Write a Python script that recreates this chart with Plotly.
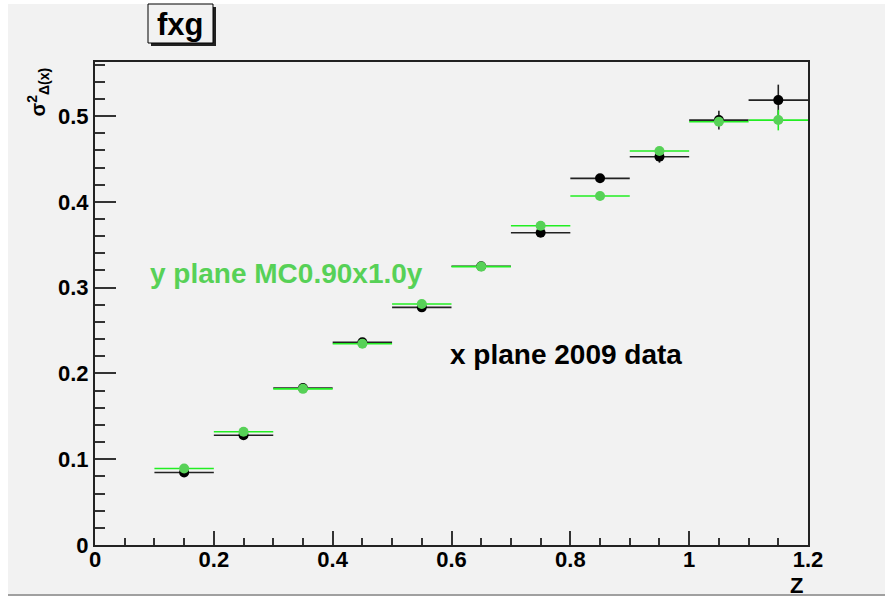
import plotly.graph_objects as go

# ---- data ----
z_centers = [0.15, 0.25, 0.35, 0.45, 0.55, 0.65, 0.75, 0.85, 0.95, 1.05, 1.15]
z_halfwidth = [0.05] * 11
data_vals = [0.0845, 0.128, 0.183, 0.2362, 0.277, 0.325, 0.364, 0.4274, 0.4526, 0.4953, 0.5186]
data_err = [0.002, 0.002, 0.002, 0.002, 0.003, 0.003, 0.003, 0.004, 0.007, 0.011, 0.018]
mc_vals = [0.0892, 0.132, 0.182, 0.2345, 0.281, 0.3245, 0.3722, 0.4068, 0.4592, 0.4934, 0.4953]
mc_err = [0.002, 0.002, 0.002, 0.002, 0.002, 0.002, 0.002, 0.003, 0.004, 0.005, 0.012]

x_ticks = [0, 0.2, 0.4, 0.6, 0.8, 1, 1.2]
x_ticklabels = ["0", "0.2", "0.4", "0.6", "0.8", "1", "1.2"]
y_ticks = [0, 0.1, 0.2, 0.3, 0.4, 0.5]
y_ticklabels = ["0", "0.1", "0.2", "0.3", "0.4", "0.5"]

W, H = 885, 605
L, R, T, B = 95, 77, 62, 60
PW, PH = W - L - R, H - T - B


def px(x):
    return (x - L) / PW


def py(y):
    return (H - B - y) / PH


FONT = "Liberation Sans, Arial, sans-serif"
BG = "#f2f2f2"
GREEN_M = "#57d157"
GREEN_L = "#22ee22"

fig = go.Figure()
fig.add_trace(go.Scatter(
    x=z_centers, y=data_vals, mode="markers", name="x plane 2009 data",
    marker=dict(color="black", size=10),
    error_x=dict(type="data", array=z_halfwidth, width=0, color="#222222", thickness=1.6),
    error_y=dict(type="data", array=data_err, width=0, color="#222222", thickness=1.6),
))
fig.add_trace(go.Scatter(
    x=z_centers, y=mc_vals, mode="markers", name="y plane MC0.90x1.0y",
    marker=dict(color=GREEN_M, size=10),
    error_x=dict(type="data", array=z_halfwidth, width=0, color=GREEN_L, thickness=1.6),
    error_y=dict(type="data", array=mc_err, width=0, color=GREEN_L, thickness=1.6),
))

shapes = [
    dict(type="rect", xref="paper", yref="paper", x0=px(8), x1=px(890), y0=py(595), y1=py(4),
         fillcolor=BG, line=dict(width=0), layer="below"),
    dict(type="line", xref="paper", yref="paper", x0=px(8), x1=px(890), y0=py(595), y1=py(595),
         line=dict(color="#a0a0a0", width=2), layer="below"),
    dict(type="rect", xref="paper", yref="paper", x0=px(151), x1=px(216), y0=py(46), y1=py(7),
         fillcolor="#222222", line=dict(width=0)),
    dict(type="rect", xref="paper", yref="paper", x0=px(148), x1=px(213), y0=py(43), y1=py(4),
         fillcolor=BG, line=dict(color="black", width=1)),
]

annotations = [
    dict(text="<b>fxg</b>", xref="paper", yref="paper", x=px(180.5), y=py(24),
         xanchor="center", yanchor="middle", showarrow=False,
         font=dict(family=FONT, size=31, color="black")),
    dict(text="<b>y plane MC0.90x1.0y</b>", xref="paper", yref="paper", x=px(148), y=py(273),
         xanchor="left", yanchor="middle", showarrow=False,
         font=dict(family=FONT, size=28, color=GREEN_M)),
    dict(text="<b>x plane 2009 data</b>", xref="paper", yref="paper", x=px(448), y=py(354),
         xanchor="left", yanchor="middle", showarrow=False,
         font=dict(family=FONT, size=28, color="black")),
    dict(text="<b>Z</b>", xref="paper", yref="paper", x=px(796), y=py(585),
         xanchor="center", yanchor="middle", showarrow=False,
         font=dict(family=FONT, size=22, color="black")),
    dict(text="<b>σ<sup>2</sup><sub>Δ(x)</sub></b>", xref="paper", yref="paper", x=px(38), y=py(66),
         xanchor="center", yanchor="top", showarrow=False, textangle=-90,
         font=dict(family=FONT, size=20, color="black")),
]

fig.update_layout(
    width=W, height=H,
    margin=dict(l=L, r=R, t=T, b=B, pad=0),
    paper_bgcolor="white",
    plot_bgcolor="rgba(0,0,0,0)",
    showlegend=False,
    shapes=shapes,
    annotations=annotations,
    xaxis=dict(
        range=[0, 1.2], tickmode="array", tickvals=x_ticks, ticktext=x_ticklabels,
        ticks="inside", ticklen=14, tickwidth=1.5, tickcolor="#333333",
        minor=dict(dtick=0.05, tick0=0, ticks="inside", ticklen=7, tickwidth=1.5, tickcolor="#333333"),
        showgrid=False, zeroline=False,
        showline=True, linecolor="#222222", linewidth=2, mirror=True,
        ticklabelstandoff=-6,
        tickfont=dict(family=FONT, size=22, color="black", weight="bold"),
    ),
    yaxis=dict(
        range=[0, 0.563], tickmode="array", tickvals=y_ticks, ticktext=y_ticklabels,
        ticks="inside", ticklen=21, tickwidth=1.5, tickcolor="#333333",
        minor=dict(dtick=0.02, tick0=0, ticks="inside", ticklen=10, tickwidth=1.5, tickcolor="#333333"),
        showgrid=False, zeroline=False,
        showline=True, linecolor="#222222", linewidth=2, mirror=True,
        tickfont=dict(family=FONT, size=22, color="black", weight="bold"),
    ),
)

fig.write_html("out.html")
